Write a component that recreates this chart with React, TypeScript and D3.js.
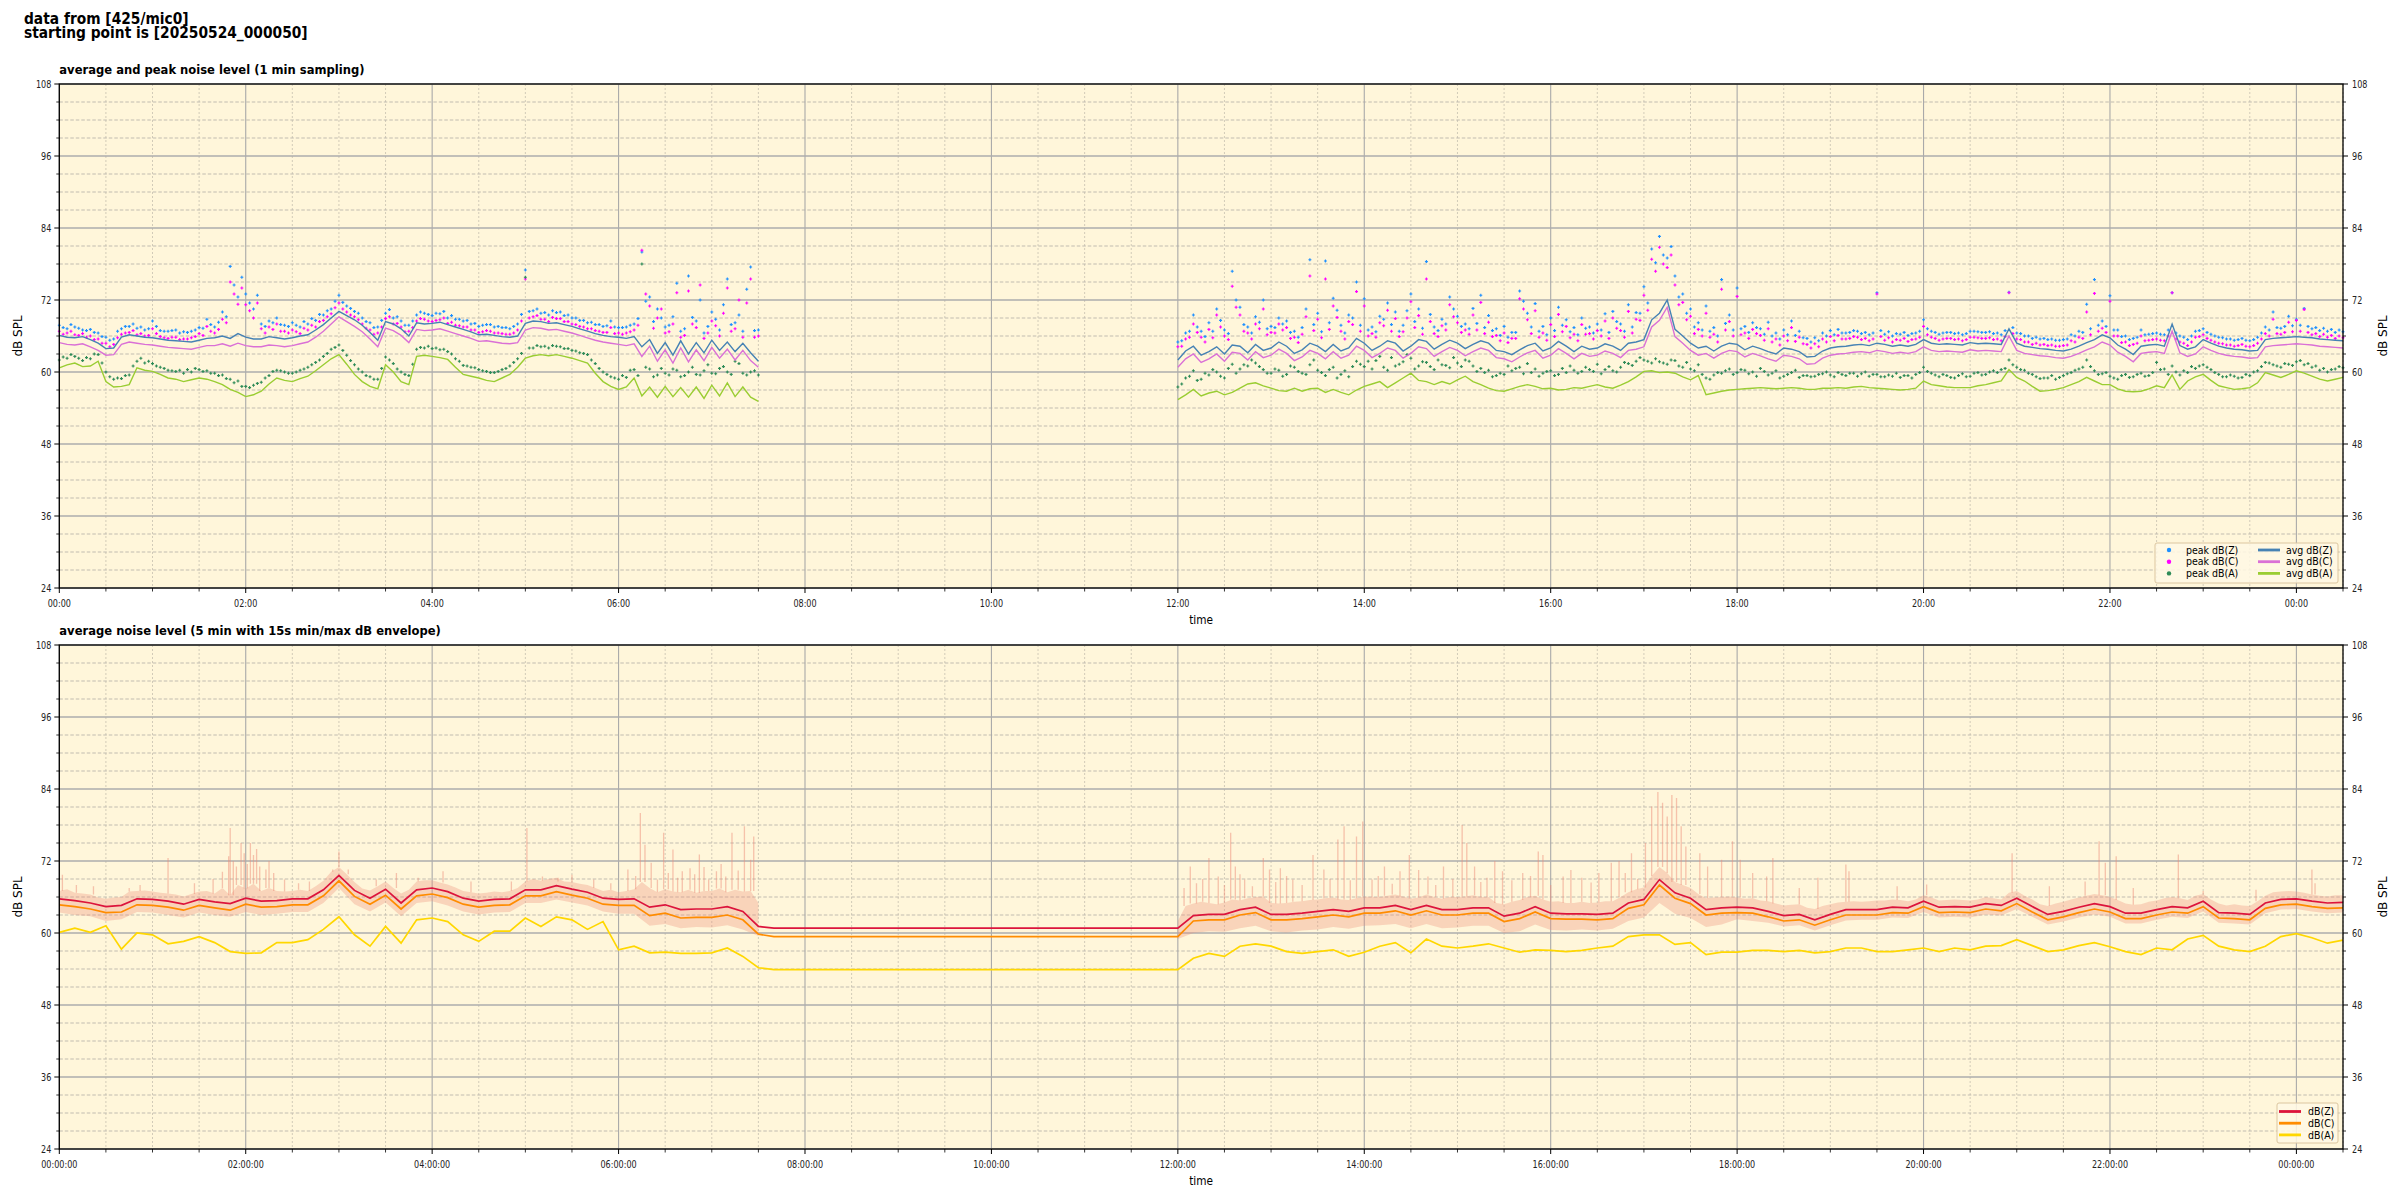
import React, { useEffect } from "react";
import * as d3 from "d3";

// ---------------- data (minutes after 2025-05-24 00:00) ----------------
const SEG1_START = 0;
const SEG2_START = 720;
const STEP_FINE = 5;
const STEP_COARSE = 10;
const X_END = 1470;

const yMajorTicks = [24, 36, 48, 60, 72, 84, 96, 108];

// top panel: 1 min sampling, read every 5 min
const avgZ1 = [
  66.1, 65.8, 65.7, 65.9, 65.4, 64.8, 63.9, 64.0, 65.8, 66.2,
  66.0, 65.8, 65.7, 65.5, 65.3, 65.2, 65.1, 65.0, 65.3, 65.6,
  65.7, 66.0, 65.6, 66.4, 65.8, 65.5, 65.5, 65.9, 65.7, 65.5,
  65.7, 66.0, 66.2, 67.0, 67.9, 69.0, 70.1, 69.4, 68.7, 67.8,
  66.6, 65.3, 68.4, 68.0, 67.2, 66.0, 68.2, 68.0, 68.1, 68.3,
  67.9, 67.5, 67.1, 66.7, 66.2, 66.3, 66.1, 65.9, 65.8, 66.0,
  68.1, 68.5, 68.4, 68.1, 68.2, 67.9, 67.6, 67.2, 66.8, 66.4,
  66.1, 65.9, 65.8, 65.6, 65.9, 64.2, 65.4, 63.1, 64.9, 62.8,
  65.2, 63.0, 64.9, 63.2, 65.3, 63.6, 65.0, 63.4, 64.8, 63.2,
  61.8,
];
const avgC1 = [
  64.9, 64.6, 64.5, 64.7, 64.2, 63.6, 62.8, 62.9, 64.6, 65.0,
  64.8, 64.6, 64.5, 64.3, 64.1, 64.0, 63.9, 63.8, 64.1, 64.4,
  64.4, 64.7, 64.3, 64.8, 64.4, 64.2, 64.2, 64.5, 64.4, 64.2,
  64.4, 64.7, 65.0, 65.8, 66.8, 68.0, 69.2, 68.4, 67.6, 66.7,
  65.5, 64.2, 67.3, 66.9, 66.1, 64.9, 67.1, 66.9, 67.0, 67.2,
  66.8, 66.4, 66.0, 65.6, 65.1, 65.2, 65.0, 64.8, 64.7, 64.9,
  67.0, 67.4, 67.3, 67.0, 67.1, 66.8, 66.5, 66.1, 65.7, 65.3,
  65.0, 64.8, 64.6, 64.4, 64.7, 62.6, 64.3, 61.8, 63.7, 61.5,
  64.0, 61.7, 63.7, 61.9, 64.1, 62.3, 63.8, 62.0, 63.6, 61.9,
  60.8,
];
const avgA1 = [
  60.7, 61.2, 61.5, 60.9, 61.0, 61.8, 58.4, 57.5, 57.6, 57.9,
  60.7, 60.3, 60.1, 59.6, 59.0, 58.8, 58.4, 58.7, 59.0, 58.8,
  58.4, 57.9, 57.1, 56.6, 55.9, 56.2, 56.8, 58.0, 59.0, 58.6,
  58.4, 58.9, 59.3, 60.2, 61.2, 62.2, 62.9, 61.3, 59.6, 58.4,
  57.6, 57.2, 61.2, 60.0, 58.4, 57.9, 62.6, 62.8, 62.6, 62.4,
  62.1, 60.8, 59.6, 59.3, 59.0, 58.6, 58.4, 59.0, 59.6, 60.8,
  62.3, 62.7, 62.9, 62.7, 62.9, 62.6, 62.3, 61.9, 61.5, 59.8,
  58.4, 57.6, 57.1, 57.5, 59.0, 56.0, 57.5, 55.8, 57.6, 55.9,
  57.4, 55.8, 57.5, 55.6, 57.8, 56.0, 58.2, 55.9, 57.5, 55.8,
  55.1,
];
const peakZ1 = [
  67.8, 67.2, 67.5, 67.0, 67.1, 66.5, 65.8, 65.5, 67.2, 67.6,
  67.3, 67.0, 68.5, 66.9, 66.8, 67.0, 66.7, 66.8, 67.4, 68.8,
  67.5, 70.0, 77.6, 72.5, 73.0, 70.5, 68.0, 68.5, 69.0, 67.8,
  68.2, 67.5, 68.0, 68.6, 69.5, 70.5, 72.8, 71.0, 70.1, 69.0,
  68.2, 67.5, 69.8, 69.0, 68.5, 67.8, 69.5, 69.8, 69.4, 69.7,
  69.0, 68.8, 68.5, 68.0, 67.6, 67.9, 67.5, 67.4, 67.2, 68.0,
  77.0, 70.2, 69.8, 69.5, 69.9, 69.4, 69.0, 68.6, 68.2, 67.9,
  67.6, 68.5, 67.4, 67.5, 68.0, 80.0, 72.5, 70.5, 67.5, 69.2,
  66.8, 76.0, 68.5, 66.5, 70.0, 67.0, 75.5, 68.2, 66.8, 77.5,
  67.0,
];
const peakC1 = [
  66.8, 66.5, 66.2, 66.4, 66.0, 65.5, 64.8, 64.6, 66.3, 66.6,
  66.2, 66.0, 67.2, 65.9, 65.6, 65.8, 65.5, 65.7, 66.4, 67.6,
  66.5, 68.8, 75.0, 71.3, 71.2, 69.0, 67.2, 67.5, 68.0, 66.8,
  67.0, 66.4, 67.0, 67.5, 68.6, 69.7, 71.5, 70.0, 69.2, 68.0,
  67.0, 66.5, 68.9, 68.0, 67.5, 66.8, 68.5, 68.8, 68.4, 68.7,
  68.1, 67.8, 67.5, 67.0, 66.6, 66.9, 66.5, 66.4, 66.3, 67.0,
  75.5, 69.2, 68.8, 68.4, 68.9, 68.4, 68.0, 67.6, 67.2, 66.9,
  66.6, 67.4, 66.5, 66.5, 67.0, 80.3, 71.0, 69.0, 66.5, 68.0,
  65.8, 73.5, 67.4, 65.6, 68.5, 66.0, 74.0, 67.2, 65.8, 75.5,
  66.0,
];
const peakA1 = [
  62.0, 62.3, 62.6, 61.9, 62.2, 62.9, 60.0, 58.8, 58.9, 59.5,
  61.8, 61.5, 61.4, 60.8, 60.3, 60.1, 59.8, 60.0, 60.4, 60.2,
  59.8, 59.5, 58.8, 58.5, 57.6, 57.8, 58.3, 59.4, 60.3, 60.0,
  59.8, 60.3, 60.8, 61.6, 62.6, 63.8, 64.5, 62.8, 61.2, 60.0,
  59.2, 58.8, 62.5, 61.4, 60.0, 59.4, 63.8, 64.0, 63.9, 63.7,
  63.4, 62.2, 61.1, 60.8, 60.4, 60.1, 59.9, 60.4, 61.0, 62.2,
  75.8, 64.0, 64.2, 64.0, 64.3, 63.9, 63.6, 63.2, 62.9, 61.4,
  60.0, 59.2, 58.8, 59.1, 60.4, 78.0, 60.5, 59.5, 59.8, 60.5,
  59.2, 60.0, 59.6, 60.2, 59.8, 60.6, 60.0, 61.8, 59.8, 60.0,
  59.5,
];
// peaks read between the 5-min marks (2.5, 7.5, ... min)
const peakZ1b = [
  67.4, 67.9, 67.3, 66.9, 66.6, 65.9, 65.3, 66.8, 67.6, 68.0,
  67.5, 67.2, 67.6, 66.8, 66.9, 66.5, 66.6, 67.0, 67.3, 67.9,
  68.3, 69.2, 74.5, 75.8, 71.5, 72.8, 67.6, 68.2, 67.9, 67.6,
  67.8, 68.4, 68.9, 69.6, 70.2, 71.8, 71.6, 70.6, 69.8, 68.4,
  67.4, 68.6, 70.4, 69.2, 67.8, 68.5, 70.0, 69.6, 69.8, 70.1,
  69.4, 68.8, 68.6, 68.1, 67.8, 67.9, 67.6, 67.4, 67.6, 69.6,
  70.1, 70.5, 69.9, 70.2, 70.0, 69.5, 69.0, 68.6, 68.3, 67.9,
  67.7, 67.5, 67.4, 67.8, 68.9, 71.8, 68.4, 69.0, 67.8, 74.8,
  67.2, 69.1, 72.0, 67.6, 68.8, 71.2, 67.9, 69.5, 73.8, 66.9,
];
const peakC1b = [
  66.3, 66.8, 66.1, 65.8, 65.4, 64.8, 64.2, 65.7, 66.5, 66.9,
  66.4, 66.1, 66.4, 65.7, 65.8, 65.4, 65.5, 65.9, 66.1, 66.8,
  67.1, 68.2, 73.0, 74.0, 70.2, 71.5, 66.5, 67.1, 66.8, 66.5,
  66.7, 67.3, 67.8, 68.4, 69.2, 70.7, 70.5, 69.5, 68.7, 67.3,
  66.3, 67.5, 69.2, 68.1, 66.7, 67.4, 68.9, 68.5, 68.6, 69.0,
  68.3, 67.7, 67.5, 67.0, 66.7, 66.8, 66.5, 66.3, 66.5, 68.5,
  69.0, 69.4, 68.8, 69.1, 68.9, 68.4, 67.9, 67.5, 67.2, 66.8,
  66.6, 66.4, 66.3, 66.7, 67.8, 73.0, 67.3, 70.5, 66.7, 73.2,
  66.1, 68.0, 74.5, 66.5, 67.7, 69.8, 66.8, 72.0, 71.5, 65.8,
];
const peakA1b = [
  62.5, 62.9, 62.3, 62.4, 63.0, 61.5, 59.2, 59.0, 59.4, 61.0,
  62.3, 61.8, 61.0, 60.6, 60.2, 60.3, 60.4, 60.6, 60.1, 59.8,
  59.4, 58.9, 58.2, 57.6, 57.4, 58.1, 59.0, 60.1, 60.2, 59.8,
  60.0, 60.5, 61.2, 62.0, 63.1, 64.1, 63.6, 61.9, 60.5, 59.4,
  58.8, 60.6, 62.0, 60.5, 59.6, 61.3, 64.1, 64.3, 64.0, 63.8,
  63.0, 61.8, 61.0, 60.7, 60.2, 59.9, 60.1, 60.6, 61.6, 63.1,
  64.0, 64.4, 64.3, 64.4, 64.2, 63.9, 63.5, 63.1, 62.0, 60.6,
  59.6, 59.0, 59.4, 60.3, 59.4, 60.8, 59.2, 60.6, 59.5, 60.3,
  59.4, 60.8, 59.5, 61.2, 59.7, 60.9, 59.6, 61.4, 59.5, 60.2,
];

const avgZ2 = [
  62.0, 63.5, 64.3, 62.8, 63.4, 64.2, 63.0, 64.5, 64.3, 63.2, 64.6, 63.6,
  64.0, 65.0, 64.3, 63.1, 63.7, 64.8, 64.3, 63.4, 64.6, 63.5, 64.0, 65.6,
  64.8, 63.6, 64.3, 65.2, 64.8, 63.5, 64.3, 65.4, 65.1, 63.8, 64.6, 65.3,
  64.8, 63.9, 64.6, 65.2, 64.8, 63.6, 63.4, 62.9, 63.7, 64.4, 64.8, 63.5,
  64.0, 65.1, 64.3, 63.4, 64.3, 63.8, 64.0, 64.7, 64.3, 63.6, 64.8, 65.0,
  65.4, 68.7, 69.8, 72.0, 67.1, 66.0, 64.8, 64.0, 64.3, 63.5, 64.3, 64.8,
  64.6, 63.7, 64.3, 63.9, 63.4, 63.0, 64.0, 63.8, 63.4, 62.5, 62.6, 63.5,
  64.0, 64.2, 64.3, 64.5, 64.6, 64.4, 64.8, 64.6, 64.3, 64.5, 64.3, 64.6,
  65.4, 64.8, 64.6, 64.7, 64.6, 64.5, 64.9, 64.7, 64.8, 64.7, 64.6, 67.2,
  64.8, 64.3, 64.1, 63.9, 63.8, 63.6, 63.5, 63.8, 64.3, 64.9, 65.4, 66.2,
  65.7, 64.5, 63.8, 62.9, 64.3, 64.5, 64.6, 64.3, 68.0, 64.4, 63.8, 64.2,
  65.4, 64.8, 64.3, 64.0, 63.8, 63.7, 63.5, 63.6, 65.4, 65.6, 65.7, 65.8,
  65.9, 65.8, 65.7, 65.5, 65.4, 65.3, 65.2,
];
const avgC2 = [
  60.8, 62.2, 63.0, 61.6, 62.2, 63.0, 61.8, 63.3, 63.1, 62.0, 63.4, 62.4,
  62.8, 63.8, 63.1, 61.9, 62.5, 63.6, 63.1, 62.2, 63.4, 62.3, 62.8, 64.3,
  63.6, 62.4, 63.1, 64.0, 63.6, 62.3, 63.1, 64.2, 63.9, 62.6, 63.4, 64.1,
  63.6, 62.7, 63.4, 64.0, 63.6, 62.4, 62.2, 61.7, 62.5, 63.2, 63.6, 62.3,
  62.8, 63.9, 63.1, 62.2, 63.1, 62.6, 62.8, 63.5, 63.1, 62.4, 63.6, 63.8,
  64.2, 67.5, 68.6, 70.8, 65.9, 64.8, 63.6, 62.8, 63.1, 62.3, 63.1, 63.6,
  63.4, 62.5, 63.1, 62.7, 62.2, 61.8, 62.8, 62.6, 62.2, 61.3, 61.4, 62.3,
  62.8, 63.0, 63.1, 63.3, 63.4, 63.2, 63.6, 63.4, 63.1, 63.3, 63.1, 63.4,
  64.2, 63.6, 63.4, 63.5, 63.4, 63.3, 63.7, 63.5, 63.6, 63.5, 63.4, 66.0,
  63.6, 63.1, 62.9, 62.7, 62.6, 62.4, 62.3, 62.6, 63.1, 63.7, 64.2, 65.0,
  64.5, 63.3, 62.6, 61.7, 63.1, 63.3, 63.4, 63.1, 66.8, 63.2, 62.6, 63.0,
  64.2, 63.6, 63.1, 62.8, 62.6, 62.5, 62.3, 62.4, 64.2, 64.4, 64.5, 64.6,
  64.7, 64.6, 64.5, 64.3, 64.2, 64.1, 64.0,
];
const avgA2 = [
  55.4, 56.2, 57.1, 56.0, 56.5, 56.8, 56.2, 56.6, 57.3, 58.0, 58.2, 57.7,
  57.3, 56.9, 56.8, 57.3, 56.8, 57.2, 57.3, 56.6, 57.1, 56.6, 56.2, 57.0,
  57.6, 58.0, 58.4, 57.4, 58.2, 59.0, 59.8, 58.6, 58.4, 57.9, 58.4, 58.0,
  58.7, 59.3, 58.4, 57.9, 57.3, 56.9, 56.8, 57.2, 57.6, 57.9, 57.6, 57.2,
  57.3, 57.0, 57.1, 57.4, 57.3, 57.6, 57.9, 57.5, 57.3, 57.8, 58.4, 59.2,
  60.1, 60.2, 59.9, 60.0, 59.8, 59.2, 58.7, 59.4, 56.2, 56.5, 56.8, 57.0,
  57.1, 57.2, 57.3, 57.4, 57.3, 57.2, 57.3, 57.4, 57.3, 57.1, 57.1, 57.3,
  57.3, 57.4, 57.3, 57.5, 57.6, 57.4, 57.3, 57.2, 57.1, 57.0, 57.1, 57.3,
  58.5, 57.9, 57.7, 57.5, 57.4, 57.4, 57.4, 57.7, 57.9, 58.2, 58.5, 60.4,
  59.1, 58.5, 57.6, 56.8, 56.9, 57.1, 57.4, 57.9, 58.4, 59.1, 58.5, 57.9,
  57.9, 57.2, 56.8, 56.7, 56.8, 57.2, 57.7, 57.4, 59.5, 57.1, 58.5, 59.2,
  59.6, 58.6, 57.7, 57.4, 57.1, 57.2, 57.4, 58.2, 59.9, 59.5, 59.1, 59.6,
  60.2, 59.8, 59.3, 58.8, 58.5, 58.8, 59.1,
];
const peakZ2 = [
  65.0, 66.5, 69.5, 66.8, 68.2, 70.5, 67.0, 76.8, 70.8, 67.5, 69.2, 72.0,
  67.6, 69.0, 68.5, 66.8, 67.4, 78.7, 69.8, 78.5, 72.3, 67.8, 69.5, 75.0,
  72.2, 67.5, 69.3, 71.5, 70.0, 67.8, 73.0, 70.5, 78.4, 67.5, 68.8, 72.5,
  69.3, 68.0, 70.6, 72.8, 69.4, 67.2, 67.6, 66.6, 73.5, 69.8, 71.4, 67.6,
  69.0, 70.8, 68.7, 67.4, 69.0, 67.5, 68.0, 69.7, 70.1, 68.0, 71.2, 69.9,
  74.2, 80.5, 82.6, 79.0, 76.0, 73.0, 70.5, 68.2, 71.0, 67.4, 75.4, 69.5,
  74.0, 67.6, 68.2, 67.2, 68.3, 66.5, 67.0, 68.5, 66.8, 65.6, 65.7, 66.5,
  66.9, 67.1, 66.5, 66.9, 66.4, 66.2, 73.2, 66.3, 66.0, 66.3, 66.1, 66.5,
  68.7, 66.8, 66.3, 66.6, 66.4, 66.2, 66.8, 66.7, 66.6, 66.4, 66.2, 73.3,
  66.5, 66.0, 65.6, 65.5, 65.4, 65.3, 65.4, 66.2, 66.8, 71.3, 75.4, 68.5,
  72.7, 67.0, 66.0, 65.6, 67.0, 66.3, 66.5, 66.2, 73.2, 66.0, 65.4, 66.8,
  67.2, 66.3, 65.8, 65.5, 65.3, 65.6, 65.2, 65.8, 67.5, 70.0, 67.3, 69.3,
  68.8, 70.6, 67.2, 66.9, 66.8, 66.6, 66.7,
];
const peakC2 = [
  64.2, 65.5, 68.0, 65.8, 67.1, 69.5, 66.0, 74.3, 69.5, 66.5, 68.0, 70.5,
  66.6, 68.0, 67.4, 65.8, 66.3, 76.0, 68.8, 75.5, 71.0, 66.8, 68.4, 73.4,
  71.0, 66.4, 68.2, 70.3, 68.9, 66.7, 71.7, 69.4, 75.5, 66.4, 67.7, 71.2,
  68.2, 67.0, 69.5, 71.6, 68.3, 66.1, 66.5, 65.6, 72.2, 68.7, 70.2, 66.5,
  67.9, 69.6, 67.6, 66.3, 67.9, 66.4, 66.9, 68.5, 69.0, 66.9, 70.1, 68.8,
  72.8, 78.8, 80.8, 77.4, 74.5, 71.6, 69.3, 67.1, 69.8, 66.3, 73.8, 68.4,
  72.6, 66.5, 67.1, 66.1, 67.2, 65.5, 66.0, 67.4, 65.8, 64.6, 64.7, 65.5,
  65.9, 66.1, 65.5, 65.9, 65.4, 65.2, 73.0, 65.3, 65.0, 65.3, 65.1, 65.5,
  67.6, 65.8, 65.3, 65.6, 65.4, 65.2, 65.8, 65.7, 65.6, 65.4, 65.2, 73.2,
  65.5, 65.0, 64.6, 64.5, 64.4, 64.3, 64.4, 65.2, 65.8, 70.0, 73.1, 67.3,
  71.8, 66.0, 65.0, 64.6, 66.0, 65.3, 65.5, 65.2, 73.2, 65.0, 64.4, 65.8,
  66.2, 65.3, 64.8, 64.5, 64.3, 64.6, 64.2, 64.8, 66.4, 68.8, 66.3, 68.3,
  68.6, 70.4, 66.2, 65.9, 65.8, 65.6, 65.7,
];
const peakA2 = [
  57.5, 59.0, 60.2, 58.8, 59.5, 60.0, 59.0, 61.3, 60.5, 61.0, 61.5, 60.4,
  59.8, 60.3, 59.6, 60.8, 59.8, 61.2, 60.3, 59.4, 60.8, 59.6, 59.2, 61.8,
  60.9, 60.5, 62.6, 60.3, 61.0, 61.7, 62.3, 61.0, 61.6, 60.4, 61.2, 60.7,
  61.5, 62.0, 61.0, 60.6, 60.3, 59.4, 59.6, 60.2, 60.8, 61.4, 60.5, 59.8,
  60.2, 59.6, 59.9, 60.3, 60.1, 60.4, 61.3, 60.4, 60.2, 60.8, 61.4, 61.8,
  62.0, 61.5, 61.7, 61.3, 61.9, 60.8, 60.5, 61.2, 59.0, 59.5, 59.8, 60.5,
  59.9, 60.3, 60.0, 60.6, 59.5, 60.2, 59.3, 59.9, 59.1, 59.4, 59.3, 59.7,
  59.5, 59.9, 59.4, 59.8, 59.7, 59.3, 59.6, 59.2, 59.3, 59.1, 59.4, 59.6,
  60.8, 59.8, 59.2, 59.4, 59.0, 59.7, 59.3, 59.9, 59.6, 60.2, 60.4, 62.0,
  60.8, 60.3, 59.6, 58.9, 59.0, 58.8, 59.4, 59.9, 60.5, 62.0, 60.2, 59.7,
  59.3, 58.8, 59.6, 59.2, 59.8, 59.4, 61.6, 60.5, 61.0, 59.5, 59.9, 60.6,
  61.2, 60.4, 59.6, 59.2, 59.3, 59.1, 59.4, 60.2, 61.6, 61.2, 60.8, 61.3,
  61.7, 61.2, 60.8, 60.3, 60.0, 60.5, 60.7,
];
const peakZ2b = [
  65.2, 66.8, 67.5, 65.9, 66.8, 68.6, 66.4, 72.0, 67.9, 66.5, 68.3, 67.2,
  67.4, 68.0, 66.6, 65.8, 70.5, 67.9, 66.7, 68.2, 70.3, 66.5, 69.0, 67.8,
  67.0, 66.7, 68.8, 67.9, 66.8, 70.2, 68.4, 67.3, 69.6, 66.9, 68.0, 70.5,
  67.6, 67.2, 68.1, 67.4, 66.9, 66.1, 65.8, 66.6, 71.8, 67.5, 66.8, 66.2,
  66.9, 67.8, 66.7, 66.2, 67.3, 66.5, 67.0, 66.6, 68.4, 66.8, 67.5, 69.8,
  71.5, 78.2, 79.5, 80.9, 72.5, 69.8, 67.5, 67.0, 66.8, 66.0, 68.1, 67.0,
  67.2, 66.6, 67.4, 66.3, 66.0, 65.5, 66.2, 66.1, 65.7, 65.0, 65.2, 66.0,
  66.2, 66.5, 66.6, 66.8, 66.6, 66.5, 66.9, 66.7, 66.4, 66.6, 66.4, 66.8,
  67.2, 66.6, 66.5, 66.6, 66.5, 66.4, 66.8, 66.6, 66.7, 66.5, 66.9, 67.4,
  66.4, 66.0, 65.8, 65.6, 65.5, 65.3, 65.5, 66.0, 66.6, 67.2, 67.8, 67.6,
  67.0, 65.9, 65.4, 65.8, 66.2, 66.4, 66.3, 67.0, 66.5, 65.8, 66.0, 66.9,
  66.6, 66.0, 65.7, 65.5, 65.4, 65.3, 65.4, 66.5, 67.0, 67.4, 67.6, 67.7,
  67.8, 67.6, 67.4, 67.3, 67.1, 67.0,
];
const peakC2b = [
  64.3, 65.8, 66.6, 65.0, 65.7, 67.5, 65.4, 70.8, 66.8, 65.5, 67.2, 66.2,
  66.5, 67.0, 65.6, 64.9, 69.2, 66.9, 65.7, 67.1, 69.1, 65.5, 67.9, 66.8,
  66.0, 65.8, 67.7, 66.8, 65.9, 69.0, 67.4, 66.3, 68.4, 65.9, 67.0, 69.2,
  66.6, 66.3, 67.0, 66.4, 65.9, 65.2, 64.9, 65.6, 70.5, 66.4, 65.8, 65.3,
  65.9, 66.7, 65.7, 65.2, 66.3, 65.5, 66.0, 65.6, 67.3, 65.8, 66.5, 68.6,
  70.3, 76.8, 78.0, 79.5, 71.2, 68.7, 66.4, 66.0, 65.8, 65.0, 67.0, 66.0,
  66.2, 65.6, 66.4, 65.3, 65.0, 64.5, 65.2, 65.1, 64.7, 64.0, 64.2, 65.0,
  65.2, 65.5, 65.6, 65.8, 65.6, 65.5, 65.9, 65.7, 65.4, 65.6, 65.4, 65.8,
  66.2, 65.6, 65.5, 65.6, 65.5, 65.4, 65.8, 65.6, 65.7, 65.5, 65.9, 66.4,
  65.4, 65.0, 64.8, 64.6, 64.5, 64.3, 64.5, 65.0, 65.6, 66.2, 66.8, 66.6,
  66.0, 64.9, 64.4, 64.8, 65.2, 65.4, 65.3, 66.0, 65.5, 64.8, 65.0, 65.9,
  65.6, 65.0, 64.7, 64.5, 64.4, 64.3, 64.4, 65.5, 66.0, 66.4, 66.6, 66.7,
  66.8, 66.6, 66.4, 66.3, 66.1, 66.0,
];
const peakA2b = [
  58.0, 59.3, 58.6, 59.8, 60.4, 59.3, 60.6, 59.8, 61.2, 62.0, 60.9, 59.8,
  60.5, 59.3, 61.0, 60.1, 59.6, 62.0, 59.9, 60.4, 59.0, 60.2, 60.9, 61.3,
  61.8, 61.9, 60.8, 62.4, 61.3, 62.9, 60.5, 61.7, 60.9, 62.0, 61.1, 62.4,
  60.9, 61.8, 60.1, 59.9, 59.2, 59.8, 61.0, 60.6, 59.7, 59.9, 59.3, 60.1,
  59.4, 60.6, 61.0, 59.8, 60.8, 60.1, 59.7, 60.9, 60.0, 61.6, 61.1, 62.4,
  61.8, 62.2, 61.5, 62.0, 61.0, 61.6, 60.2, 59.6, 58.8, 59.9, 60.2, 59.6,
  60.4, 59.7, 59.3, 60.1, 59.8, 59.0, 59.6, 60.3, 59.4, 59.2, 59.6, 60.0,
  59.2, 59.6, 59.8, 59.3, 60.0, 59.6, 59.2, 59.5, 59.8, 59.4, 59.0, 59.9,
  60.1, 59.5, 59.6, 59.1, 59.4, 59.2, 59.8, 59.5, 60.0, 59.9, 60.6, 61.2,
  60.4, 59.8, 59.2, 59.0, 59.4, 59.1, 59.7, 60.3, 60.8, 60.9, 59.6, 59.9,
  59.0, 59.4, 59.1, 59.6, 59.3, 59.9, 60.4, 59.6, 60.0, 60.2, 60.9, 61.0,
  60.8, 59.9, 59.2, 59.5, 59.0, 59.6, 60.0, 60.9, 61.5, 61.0, 61.4, 61.1,
  61.9, 61.4, 61.0, 60.6, 60.4, 60.9,
];

// bottom panel: 5 min averages, read every 10 min from 00:00 to 24:30
const dbZ = [
  65.7, 65.4, 65.0, 64.4, 64.6, 65.7, 65.6, 65.3, 64.8, 65.6, 65.2, 64.9,
  65.8, 65.3, 65.4, 65.7, 65.7, 67.2, 69.6, 67.1, 65.8, 67.3, 65.0, 67.2,
  67.5, 66.9, 65.8, 65.3, 65.6, 65.7, 67.2, 67.2, 67.9, 67.3, 66.8, 65.8,
  65.6, 65.7, 64.3, 64.7, 63.9, 64.0, 64.0, 64.4, 63.6, 61.1, 60.8, 60.8,
  60.8, 60.8, 60.8, 60.8, 60.8, 60.8, 60.8, 60.8, 60.8, 60.8, 60.8, 60.8,
  60.8, 60.8, 60.8, 60.8, 60.8, 60.8, 60.8, 60.8, 60.8, 60.8, 60.8, 60.8,
  60.8, 62.9, 63.1, 63.1, 63.9, 64.3, 63.1, 63.1, 63.3, 63.6, 63.9, 63.6,
  64.2, 64.2, 64.6, 63.9, 64.6, 63.9, 63.9, 64.2, 64.2, 62.8, 63.3, 64.4,
  63.3, 63.2, 63.2, 63.1, 63.3, 65.0, 65.6, 68.9, 66.7, 65.8, 63.9, 64.2,
  64.3, 64.2, 63.6, 62.9, 63.1, 62.2, 63.1, 63.9, 63.9, 63.9, 64.3, 64.2,
  65.3, 64.3, 64.4, 64.3, 64.9, 64.6, 65.8, 64.4, 63.1, 63.6, 64.3, 64.9,
  64.4, 63.3, 63.3, 63.9, 64.4, 64.2, 65.3, 63.4, 63.3, 63.1, 65.0, 65.6,
  65.7, 65.3, 65.0, 65.1,
];
const dbC = [
  64.7, 64.4, 64.0, 63.4, 63.5, 64.7, 64.6, 64.3, 63.8, 64.6, 64.2, 63.8,
  64.8, 64.3, 64.4, 64.7, 64.7, 66.2, 68.7, 66.1, 64.8, 66.3, 64.0, 66.2,
  66.5, 65.9, 64.8, 64.3, 64.6, 64.7, 66.2, 66.2, 66.9, 66.3, 65.8, 64.8,
  64.6, 64.6, 62.9, 63.3, 62.5, 62.6, 62.6, 63.0, 62.2, 59.8, 59.4, 59.4,
  59.4, 59.4, 59.4, 59.4, 59.4, 59.4, 59.4, 59.4, 59.4, 59.4, 59.4, 59.4,
  59.4, 59.4, 59.4, 59.4, 59.4, 59.4, 59.4, 59.4, 59.4, 59.4, 59.4, 59.4,
  59.4, 62.0, 62.2, 62.2, 63.0, 63.4, 62.2, 62.2, 62.4, 62.7, 63.0, 62.7,
  63.3, 63.3, 63.7, 63.0, 63.7, 63.0, 63.0, 63.3, 63.3, 61.9, 62.4, 63.5,
  62.4, 62.3, 62.3, 62.2, 62.4, 64.1, 64.7, 68.0, 65.8, 64.9, 63.0, 63.3,
  63.4, 63.3, 62.7, 62.0, 62.2, 61.3, 62.2, 63.0, 63.0, 63.0, 63.4, 63.3,
  64.4, 63.4, 63.5, 63.4, 64.0, 63.7, 64.9, 63.5, 62.2, 62.7, 63.4, 64.0,
  63.5, 62.4, 62.4, 63.0, 63.5, 63.3, 64.4, 62.5, 62.4, 62.2, 64.1, 64.7,
  64.8, 64.4, 64.1, 64.2,
];
const dbA = [
  60.1, 60.8, 60.1, 61.2, 57.3, 60.0, 59.7, 58.2, 58.6, 59.4, 58.4, 56.9,
  56.6, 56.7, 58.4, 58.4, 58.9, 60.6, 62.7, 59.7, 57.8, 61.1, 58.3, 62.2,
  62.5, 61.9, 59.7, 58.6, 60.3, 60.3, 62.5, 61.1, 62.7, 62.2, 60.6, 61.9,
  57.2, 57.8, 56.7, 56.8, 56.6, 56.6, 56.7, 57.5, 56.1, 54.2, 53.9, 53.9,
  53.9, 53.9, 53.9, 53.9, 53.9, 53.9, 53.9, 53.9, 53.9, 53.9, 53.9, 53.9,
  53.9, 53.9, 53.9, 53.9, 53.9, 53.9, 53.9, 53.9, 53.9, 53.9, 53.9, 53.9,
  53.9, 55.8, 56.6, 56.1, 57.8, 58.2, 57.8, 56.9, 56.6, 56.9, 57.2, 56.1,
  56.8, 57.8, 58.4, 56.7, 59.0, 57.8, 57.5, 57.8, 58.2, 57.5, 56.8, 57.2,
  57.1, 56.9, 57.1, 57.5, 57.8, 59.4, 59.7, 59.7, 58.1, 58.4, 56.4, 56.8,
  56.8, 57.1, 57.1, 56.9, 57.1, 56.7, 56.9, 57.5, 57.5, 56.9, 56.9, 57.2,
  57.5, 56.9, 57.5, 57.2, 57.8, 57.9, 58.9, 57.9, 56.9, 57.2, 57.9, 58.4,
  57.7, 56.9, 56.4, 57.5, 57.2, 59.0, 59.6, 57.8, 57.2, 56.9, 57.8, 59.4,
  59.9, 59.2, 58.3, 58.8,
];
// 15 s min/max envelope: band top every 5 min, band bottom every 10 min
const envMax1 = [
  67.0, 67.3, 66.7, 66.6, 66.4, 65.9, 65.7, 65.9, 66.0, 66.9,
  67.0, 67.1, 66.9, 66.7, 66.6, 66.4, 66.1, 66.5, 66.9, 67.0,
  66.6, 67.5, 66.3, 68.0, 67.4, 68.2, 67.0, 67.5, 67.0, 66.9,
  67.0, 67.2, 67.0, 67.8, 68.7, 70.2, 71.0, 69.8, 68.5, 67.4,
  67.1, 67.8, 68.6, 67.5, 66.6, 67.2, 68.6, 68.8, 68.8, 68.4,
  68.1, 67.6, 67.0, 66.8, 66.6, 66.7, 66.9, 66.8, 67.0, 67.5,
  68.6, 69.0, 68.7, 69.0, 69.2, 68.6, 68.5, 68.2, 68.0, 67.5,
  67.0, 67.2, 66.8, 67.0, 67.3, 68.5, 67.5, 66.8, 67.3, 66.9,
  66.8, 67.2, 66.7, 67.0, 67.0, 67.4, 66.8, 67.2, 66.9, 67.0,
  65.0,
];
const envMin1 = [
  63.4, 63.0, 62.8, 62.0, 62.3, 63.5, 63.4, 63.0, 62.6, 63.4,
  63.0, 62.7, 63.5, 63.0, 63.2, 63.5, 63.5, 65.0, 67.5, 64.8,
  63.6, 65.1, 62.8, 65.0, 65.3, 64.6, 63.6, 63.1, 63.4, 63.5,
  65.0, 65.0, 65.6, 65.1, 64.6, 63.6, 63.2, 63.2, 61.2, 61.5,
  60.8, 61.0, 60.9, 61.3, 60.6, 59.5,
];
const envMax2 = [
  62.0, 64.5, 64.9, 65.2, 65.0, 64.8, 65.1, 65.6, 65.4, 65.8, 66.0, 66.1,
  65.0, 64.9, 65.0, 65.2, 65.3, 65.5, 65.6, 65.8, 65.9, 65.6, 65.5, 65.8,
  66.1, 66.0, 66.0, 66.2, 66.4, 66.1, 65.7, 65.9, 66.4, 66.0, 65.7, 66.0,
  66.0, 66.1, 66.3, 66.0, 66.0, 65.0, 64.8, 65.2, 65.5, 66.0, 66.2, 65.6,
  65.2, 65.3, 65.0, 65.0, 65.2, 65.0, 65.1, 65.3, 65.3, 66.0, 66.8, 67.3,
  67.6, 69.5, 71.0, 70.0, 68.5, 68.0, 67.5, 66.5, 65.8, 65.9, 66.0, 66.1,
  65.9, 65.7, 65.8, 65.4, 65.3, 64.9, 64.6, 64.7, 64.8, 64.2, 64.0, 64.5,
  64.8, 65.1, 65.2, 65.3, 65.2, 65.3, 65.4, 65.4, 65.6, 65.5, 65.3, 65.6,
  66.3, 65.9, 65.4, 65.5, 65.6, 65.5, 65.4, 65.6, 66.0, 65.8, 65.6, 66.7,
  67.0, 66.2, 65.6, 64.8, 64.5, 64.9, 65.2, 65.6, 65.9, 66.2, 66.5, 66.3,
  66.0, 65.5, 64.9, 64.7, 64.8, 65.2, 65.4, 65.8, 66.0, 65.8, 65.5, 66.2,
  66.5, 65.6, 64.9, 64.6, 64.8, 64.6, 64.5, 65.3, 66.2, 66.8, 66.9, 67.0,
  66.9, 66.7, 66.4, 66.2, 66.1, 66.3, 66.3,
];
const envMin2 = [
  59.0, 60.0, 60.3, 60.2, 60.8, 61.2,
  60.3, 60.1, 60.4, 60.6, 61.0, 60.7,
  61.2, 61.3, 61.5, 60.8, 61.5, 60.8,
  60.9, 61.2, 61.2, 60.0, 60.3, 61.4,
  60.5, 60.4, 60.6, 60.4, 60.7, 62.0,
  62.6, 65.0, 63.2, 62.5, 61.0, 61.4,
  62.3, 62.0, 61.7, 61.1, 61.3, 60.4,
  61.3, 62.1, 62.2, 62.2, 62.6, 62.5,
  63.5, 62.6, 62.7, 62.6, 63.1, 62.9,
  64.0, 62.7, 61.4, 61.9, 62.6, 63.1,
  62.7, 61.6, 61.6, 62.2, 62.7, 62.5,
  63.6, 61.7, 61.6, 61.4, 63.3, 63.9,
  64.0, 63.6, 63.3, 63.4,
];
// short 15 s maxima sticking out of the envelope: [minute, dB]
const envSpikes: [number, number][] = [
  [2, 69.7], [11, 68.0], [22, 67.8], [45, 67.5], [52, 68.0], [70, 72.5], [87, 68.3], [99, 69.0],
  [105, 70.2], [109, 72.8], [110, 77.5], [112, 72.0], [114, 71.1], [117, 75.0], [119, 73.3],
  [121, 71.5], [123, 75.0], [125, 73.0], [127, 74.0], [129, 71.1], [133, 70.6], [135, 72.0],
  [138, 70.0], [145, 68.9], [154, 68.3], [161, 68.6], [176, 70.6], [180, 73.6], [186, 70.6],
  [204, 68.9], [217, 70.0], [231, 69.2], [247, 70.3], [265, 68.6], [291, 68.6], [301, 77.5],
  [311, 69.4], [321, 68.6], [330, 69.7], [344, 68.9], [355, 68.3], [366, 70.6], [371, 69.5],
  [374, 80.0], [377, 74.7], [381, 71.7], [385, 68.9], [389, 76.7], [392, 70.0], [395, 73.9],
  [398, 69.2], [401, 70.3], [406, 70.8], [409, 69.8], [412, 73.1], [415, 71.0], [418, 68.9],
  [423, 70.3], [426, 71.5], [429, 69.4], [433, 76.7], [437, 70.4], [441, 77.8], [445, 72.2],
  [447, 76.1],
  [724, 67.5], [728, 71.1], [732, 68.3], [736, 69.0], [740, 72.5], [746, 69.4], [750, 68.0],
  [754, 76.7], [757, 71.1], [760, 69.8], [763, 68.9], [768, 67.8], [775, 72.5], [779, 70.6],
  [783, 68.5], [786, 70.8], [790, 69.5], [794, 68.9], [800, 68.0], [807, 73.0], [814, 70.6],
  [818, 69.0], [823, 75.6], [827, 77.8], [831, 68.8], [835, 76.1], [839, 78.6], [845, 68.9],
  [849, 69.5], [853, 71.1], [858, 68.2], [863, 70.3], [869, 73.0], [875, 70.5], [881, 69.4],
  [886, 68.0], [891, 71.1], [897, 69.0], [903, 78.0], [906, 75.0], [911, 71.1], [915, 68.5],
  [919, 69.2], [924, 72.0], [929, 70.3], [935, 68.8], [942, 70.0], [947, 69.5], [952, 73.6],
  [955, 73.0], [960, 68.0], [968, 69.4], [973, 70.5], [980, 69.2], [986, 68.4], [991, 70.0],
  [999, 71.7], [1004, 72.0], [1008, 70.0], [1012, 73.3], [1016, 69.0], [1021, 75.0],
  [1025, 81.1], [1029, 83.5], [1032, 81.7], [1035, 79.4], [1038, 83.0], [1041, 82.5],
  [1044, 77.8], [1047, 74.4], [1056, 73.3], [1061, 71.1], [1070, 72.2], [1077, 75.3],
  [1082, 72.2], [1090, 70.0], [1099, 69.4], [1103, 72.5], [1120, 67.5], [1132, 69.2],
  [1150, 71.4], [1152, 70.3], [1183, 67.8], [1202, 68.1], [1257, 73.3], [1281, 67.8],
  [1304, 68.6], [1313, 75.3], [1317, 71.7], [1324, 72.8], [1335, 67.5], [1364, 73.1],
  [1380, 67.0], [1414, 67.2], [1450, 70.6], [1452, 68.3],
];

// ---------------- layout ----------------
const W = 2400;
const H = 1200;
const PL = 59.3;
const PR = 2343;
const PANELS = [
  { top: 84, bottom: 588 },
  { top: 645, bottom: 1149 },
];
const FONT = "DejaVu Sans, Verdana, sans-serif";
const BG = "#fff6da";
const ENV = "#ee8e7a";

type Pt = { t: Date; v: number };
const T0 = new Date(2025, 4, 24, 0, 0, 0).getTime();
const tm = (m: number) => new Date(T0 + m * 60000);
const pts = (start: number, step: number, vals: number[]): Pt[] =>
  vals.map((v, i) => ({ t: tm(start + i * step), v }));

const x = d3.scaleTime().domain([tm(0), tm(X_END)]).range([PL, PR]);

function Txt(props: {
  x: number; y: number; size: number; sx?: number; weight?: string;
  anchor?: string; rotate?: number; fill?: string; children: React.ReactNode;
}) {
  const { sx = 1, weight = "normal", anchor = "start", rotate = 0, fill = "#000" } = props;
  const tf = `translate(${props.x},${props.y})` + (rotate ? ` rotate(${rotate})` : "") + ` scale(${sx},1)`;
  return (
    <text transform={tf} fontSize={props.size} fontWeight={weight} textAnchor={anchor as any}
      fontFamily={FONT} fill={fill}>{props.children}</text>
  );
}

const plus = (px: number, py: number) => `M${px - 1.5},${py}H${px + 1.5}M${px},${py - 1.5}V${py + 1.5}`;

function Panel({ idx, title, fmt, children }: { idx: number; title: string; fmt: string; children: (y: d3.ScaleLinear<number, number>) => React.ReactNode }) {
  const { top, bottom } = PANELS[idx];
  const y = d3.scaleLinear().domain([24, 108]).range([bottom, top]);
  const majorX = x.ticks(d3.timeHour.every(2) as any);
  const minorX = (d3.timeMinute.every(30) as any).range(tm(0), tm(X_END + 1))
    .filter((d: Date) => ((d.getTime() - T0) / 60000) % 120 !== 0);
  const minorY = d3.range(24, 109, 3).filter((v) => (v - 24) % 12 !== 0);
  const f = d3.timeFormat(fmt);
  const mid = (top + bottom) / 2;
  return (
    <g>
      <rect x={PL} y={top} width={PR - PL} height={bottom - top} fill={BG} />
      {minorX.map((d: Date, i: number) => (
        <line key={"mx" + i} x1={x(d)} x2={x(d)} y1={top} y2={bottom} stroke="#cdc6b4" strokeWidth={0.9} strokeDasharray="2,2" />
      ))}
      {minorY.map((v) => (
        <line key={"my" + v} x1={PL} x2={PR} y1={y(v)} y2={y(v)} stroke="#bab6ac" strokeWidth={0.9} strokeDasharray="3.5,2" />
      ))}
      {majorX.map((d, i) => (
        <line key={"Mx" + i} x1={x(d)} x2={x(d)} y1={top} y2={bottom} stroke="#a9a9a9" strokeWidth={1.1} />
      ))}
      {yMajorTicks.map((v) => (
        <line key={"My" + v} x1={PL} x2={PR} y1={y(v)} y2={y(v)} stroke="#adadad" strokeWidth={1.7} />
      ))}
      {children(y)}
      <rect x={PL} y={top} width={PR - PL} height={bottom - top} fill="none" stroke="#000" strokeWidth={1.3} />
      {yMajorTicks.map((v) => (
        <g key={"yt" + v}>
          <line x1={PL - 5} x2={PL} y1={y(v)} y2={y(v)} stroke="#000" strokeWidth={1} />
          <line x1={PR} x2={PR + 5} y1={y(v)} y2={y(v)} stroke="#000" strokeWidth={1} />
          <Txt x={PL - 8} y={y(v) + 3.5} size={9.6} sx={0.84} anchor="end" fill="#222">{v}</Txt>
          <Txt x={PR + 9} y={y(v) + 3.5} size={9.6} sx={0.84} fill="#222">{v}</Txt>
        </g>
      ))}
      {minorY.map((v) => (
        <g key={"ymt" + v}>
          <line x1={PL - 3} x2={PL} y1={y(v)} y2={y(v)} stroke="#000" strokeWidth={0.8} />
          <line x1={PR} x2={PR + 3} y1={y(v)} y2={y(v)} stroke="#000" strokeWidth={0.8} />
        </g>
      ))}
      {majorX.map((d, i) => (
        <g key={"xt" + i}>
          <line x1={x(d)} x2={x(d)} y1={bottom} y2={bottom + 5} stroke="#000" strokeWidth={1} />
          <Txt x={x(d)} y={bottom + 18.5} size={9.6} sx={0.84} anchor="middle" fill="#222">{f(d)}</Txt>
        </g>
      ))}
      {minorX.map((d: Date, i: number) => (
        <line key={"xmt" + i} x1={x(d)} x2={x(d)} y1={bottom} y2={bottom + 3.5} stroke="#000" strokeWidth={0.8} />
      ))}
      <Txt x={PL} y={top - 10} size={13} sx={0.89} weight="bold">{title}</Txt>
      <Txt x={(PL + PR) / 2} y={bottom + 36} size={12} sx={0.88} anchor="middle">time</Txt>
      <Txt x={22} y={mid} size={12} anchor="middle" rotate={-90}>dB SPL</Txt>
      <Txt x={2387} y={mid} size={12} anchor="middle" rotate={-90}>dB SPL</Txt>
    </g>
  );
}

function linePath(y: d3.ScaleLinear<number, number>, data: Pt[]) {
  return d3.line<Pt>().x((d) => x(d.t)).y((d) => y(d.v))(data) || "";
}

function TopContent({ y }: { y: d3.ScaleLinear<number, number> }) {
  const half = STEP_FINE / 2;
  const peaks: [Pt[], string][] = [
    [[...pts(SEG1_START, STEP_FINE, peakZ1), ...pts(SEG1_START + half, STEP_FINE, peakZ1b),
      ...pts(SEG2_START, STEP_FINE, peakZ2), ...pts(SEG2_START + half, STEP_FINE, peakZ2b)], "#1e90ff"],
    [[...pts(SEG1_START, STEP_FINE, peakC1), ...pts(SEG1_START + half, STEP_FINE, peakC1b),
      ...pts(SEG2_START, STEP_FINE, peakC2), ...pts(SEG2_START + half, STEP_FINE, peakC2b)], "#ff00ff"],
    [[...pts(SEG1_START, STEP_FINE, peakA1), ...pts(SEG1_START + half, STEP_FINE, peakA1b),
      ...pts(SEG2_START, STEP_FINE, peakA2), ...pts(SEG2_START + half, STEP_FINE, peakA2b)], "#2e8b57"],
  ];
  const avgs: [number[], number[], string][] = [
    [avgZ1, avgZ2, "#4682b4"],
    [avgC1, avgC2, "#da70d6"],
    [avgA1, avgA2, "#9acd32"],
  ];
  return (
    <g>
      {peaks.map(([d, c], i) => (
        <path key={"pk" + i} d={d.map((p) => plus(x(p.t), y(p.v))).join("")} stroke={c} strokeWidth={1.1} fill="none" />
      ))}
      {avgs.map(([a, b, c], i) => (
        <g key={"av" + i}>
          <path d={linePath(y, pts(SEG1_START, STEP_FINE, a))} stroke={c} strokeWidth={1.4} fill="none" />
          <path d={linePath(y, pts(SEG2_START, STEP_FINE, b))} stroke={c} strokeWidth={1.4} fill="none" />
        </g>
      ))}
      <rect x={2155} y={543} width={183} height={40} rx={2} fill="#fff8e4" fillOpacity={0.85} stroke="#dcc6a0" strokeWidth={1} />
      {[["peak dB(Z)", "#1e90ff", "avg dB(Z)", "#4682b4"], ["peak dB(C)", "#ff00ff", "avg dB(C)", "#da70d6"], ["peak dB(A)", "#2e8b57", "avg dB(A)", "#9acd32"]].map((r, i) => {
        const ry = 550 + i * 11.7;
        return (
          <g key={"lg" + i}>
            <circle cx={2169} cy={ry} r={2.2} fill={r[1]} />
            <Txt x={2186} y={ry + 3.6} size={10.5} sx={0.9}>{r[0]}</Txt>
            <line x1={2258} x2={2280} y1={ry} y2={ry} stroke={r[3]} strokeWidth={2.8} />
            <Txt x={2286} y={ry + 3.6} size={10.5} sx={0.9}>{r[2]}</Txt>
          </g>
        );
      })}
    </g>
  );
}

function BottomContent({ y }: { y: d3.ScaleLinear<number, number> }) {
  const env = (maxV: number[], minV: number[], start: number) => {
    const up = pts(start, STEP_FINE, maxV);
    const lo = pts(start, STEP_COARSE, minV).reverse();
    return linePath(y, [...up, ...lo]) + "Z";
  };
  const bandTop = (m: number) => {
    if (m < SEG2_START) return envMax1[Math.min(envMax1.length - 1, Math.round((m - SEG1_START) / STEP_FINE))];
    return envMax2[Math.min(envMax2.length - 1, Math.round((m - SEG2_START) / STEP_FINE))];
  };
  const lines: [number[], string][] = [[dbZ, "#dc143c"], [dbC, "#ff8c00"], [dbA, "#ffd700"]];
  return (
    <g>
      <path d={env(envMax1, envMin1, SEG1_START)} fill={ENV} fillOpacity={0.33} />
      <path d={env(envMax2, envMin2, SEG2_START)} fill={ENV} fillOpacity={0.33} />
      <path
        d={envSpikes.map(([m, v]) => `M${x(tm(m))},${y(v)}V${y(bandTop(m))}`).join("")}
        stroke={ENV} strokeOpacity={0.5} strokeWidth={1.3} fill="none"
      />
      {lines.map(([v, c], i) => (
        <path key={"bl" + i} d={linePath(y, pts(0, STEP_COARSE, v))} stroke={c} strokeWidth={1.7} fill="none" />
      ))}
      <rect x={2277} y={1103} width={61} height={40} rx={2} fill="#fff8e4" fillOpacity={0.85} stroke="#dcc6a0" strokeWidth={1} />
      {[["dB(Z)", "#dc143c"], ["dB(C)", "#ff8c00"], ["dB(A)", "#ffd700"]].map((r, i) => {
        const ry = 1111.5 + i * 11.7;
        return (
          <g key={"bl2" + i}>
            <line x1={2279} x2={2301} y1={ry} y2={ry} stroke={r[1]} strokeWidth={2.8} />
            <Txt x={2308} y={ry + 3.6} size={10.5} sx={0.9}>{r[0]}</Txt>
          </g>
        );
      })}
    </g>
  );
}

export default function App() {
  useEffect(() => {
    document.body.style.margin = "0";
  }, []);
  return (
    <svg width={W} height={H} viewBox={`0 0 ${W} ${H}`} style={{ position: "absolute", left: 0, top: 0, background: "#fff" }}>
      <rect x={0} y={0} width={W} height={H} fill="#fff" />
      <Txt x={24} y={23.5} size={15} sx={0.92} weight="bold">data from [425/mic0]</Txt>
      <Txt x={24} y={38} size={15} sx={0.92} weight="bold">starting point is [20250524_000050]</Txt>
      <Panel idx={0} title="average and peak noise level (1 min sampling)" fmt="%H:%M">
        {(y) => <TopContent y={y} />}
      </Panel>
      <Panel idx={1} title="average noise level (5 min with 15s min/max dB envelope)" fmt="%H:%M:%S">
        {(y) => <BottomContent y={y} />}
      </Panel>
    </svg>
  );
}
